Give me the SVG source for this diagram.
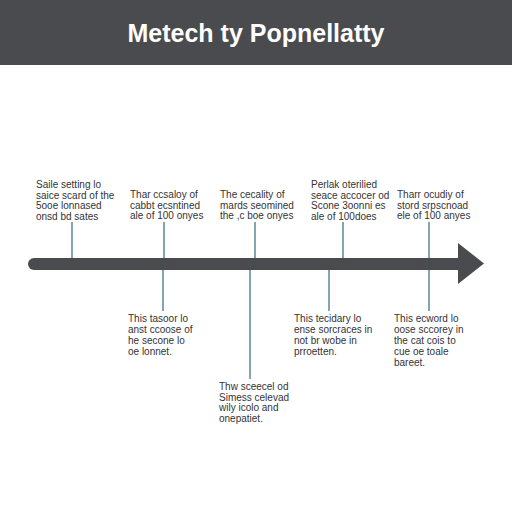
<svg xmlns="http://www.w3.org/2000/svg" width="512" height="512" viewBox="0 0 512 512">
<style>
.t{font-family:"Liberation Sans",Arial,sans-serif;font-size:10px;fill:#333336}
.tick{stroke:#5b8793;stroke-width:1.5}
</style>
<rect width="512" height="512" fill="#ffffff"/>
<g id="header">
<rect x="0" y="0" width="512" height="65" fill="#4a4b4f"/>
<text x="256" y="42" text-anchor="middle" font-family="Liberation Sans,Arial,sans-serif" font-weight="bold" font-size="25" fill="#ffffff">Metech ty Popnellatty</text>
</g>
<g id="connectors">
<line class="tick" x1="72" y1="222" x2="72" y2="260"/>
<line class="tick" x1="164" y1="222" x2="164" y2="260"/>
<line class="tick" x1="255" y1="222" x2="255" y2="260"/>
<line class="tick" x1="343" y1="222" x2="343" y2="260"/>
<line class="tick" x1="429" y1="222" x2="429" y2="260"/>
<line class="tick" x1="163" y1="268" x2="163" y2="311"/>
<line class="tick" x1="250" y1="268" x2="250" y2="379"/>
<line class="tick" x1="329" y1="268" x2="329" y2="311"/>
<line class="tick" x1="429" y1="268" x2="429" y2="311"/>
</g>
<g id="timeline">
<line x1="34" y1="264" x2="462" y2="264" stroke="#4a4b4f" stroke-width="12" stroke-linecap="round"/>
<polygon points="458,243 484,263.5 458,284" fill="#4a4b4f"/>
</g>
<g id="e1"><text class="t" x="36" y="188">Saile setting lo<tspan x="36" dy="10.5">saice scard of the</tspan><tspan x="36" dy="10.5">5ooe lonnased</tspan><tspan x="36" dy="10.5">onsd bd sates</tspan></text></g>
<g id="e2"><text class="t" x="130" y="198">Thar ccsaloy of<tspan x="130" dy="10.5">cabbt ecsntined</tspan><tspan x="130" dy="10.5">ale of 100 onyes</tspan></text></g>
<g id="e3"><text class="t" x="220" y="198">The cecality of<tspan x="220" dy="10.5">mards seomined</tspan><tspan x="220" dy="10.5">the ,c boe onyes</tspan></text></g>
<g id="e4"><text class="t" x="311" y="188">Perlak oterilied<tspan x="311" dy="10.5">seace accocer od</tspan><tspan x="311" dy="10.5">Scone 3oonni es</tspan><tspan x="311" dy="10.5">ale of 100does</tspan></text></g>
<g id="e5"><text class="t" x="397" y="198">Tharr ocudiy of<tspan x="397" dy="10.5">stord srpscnoad</tspan><tspan x="397" dy="10.5">ele of 100 anyes</tspan></text></g>
<g id="e6"><text class="t" x="128" y="322">This tasoor lo<tspan x="128" dy="11">anst ccoose of</tspan><tspan x="128" dy="11">he secone lo</tspan><tspan x="128" dy="11">oe lonnet.</tspan></text></g>
<g id="e7"><text class="t" x="219" y="390">Thw sceecel od<tspan x="219" dy="10.5">Simess celevad</tspan><tspan x="219" dy="10.5">wily icolo and</tspan><tspan x="219" dy="10.5">onepatiet.</tspan></text></g>
<g id="e8"><text class="t" x="294" y="322">This tecidary lo<tspan x="294" dy="11">ense sorcraces in</tspan><tspan x="294" dy="11">not br wobe in</tspan><tspan x="294" dy="11">prroetten.</tspan></text></g>
<g id="e9"><text class="t" x="394" y="322">This ecword lo<tspan x="394" dy="11">oose sccorey in</tspan><tspan x="394" dy="11">the cat cois to</tspan><tspan x="394" dy="11">cue oe toale</tspan><tspan x="394" dy="11">bareet.</tspan></text></g>
</svg>
